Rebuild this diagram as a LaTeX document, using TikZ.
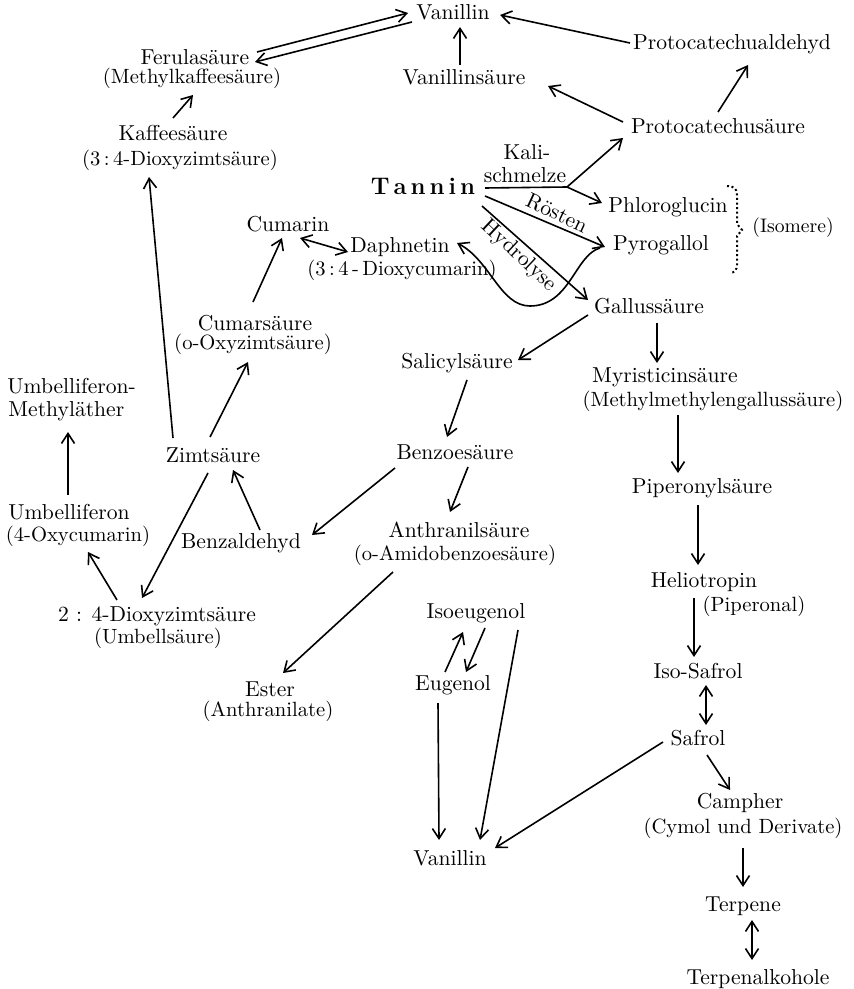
\documentclass[tikz,border=0pt]{standalone}
\usetikzlibrary{arrows.meta,calc}
\begin{document}
\begin{tikzpicture}[x=0.5pt,y=-0.5pt,
  lbl/.style={inner sep=0pt, anchor=base, font=\fontsize{10.8}{13}\selectfont},
  subtxt/.style={lbl, font=\fontsize{10.3}{12}\selectfont},
  arr/.style={-{Straight Barb[length=5pt,width=6.5pt]}, line width=0.8pt},
  darr/.style={{Straight Barb[length=5pt,width=6.5pt]}-{Straight Barb[length=5pt,width=6.5pt]}, line width=0.8pt},
  conn/.style={line width=0.8pt}]
\useasboundingbox (0,0) rectangle (853,989);

% compounds
\node[lbl] (van1) at (453,20) {Vanillin};
\node[lbl] (pald) at (732,50) {Protocatechualdehyd};
\node[lbl] (ferul) at (195,65) {Ferulasäure};
\node[subtxt] (ferulsub) at (192,84) {(Methylkaffeesäure)};
\node[lbl] (vans) at (464,85) {Vanillinsäure};
\node[lbl] (kaff) at (173,141) {Kaffeesäure};
\node[subtxt] (kaffsub) at (180,166) {(3\,:\,4-Dioxyzimtsäure)};
\node[lbl] (pcs) at (718,134) {Protocatechusäure};
\node[lbl, font=\bfseries\fontsize{12}{14}\selectfont] (tannin) at (423,195) {T\kern2pt a\kern2pt n\kern2pt n\kern2pt i\kern2pt n};
\node[lbl] (kali) at (527,160) {Kali-};
\node[lbl] (schm) at (525,183) {schmelze};
\node[lbl] (phlo) at (668,213) {Phloroglucin};
\node[lbl] (pyro) at (661,251) {Pyrogallol};
\node[lbl, anchor=base west, font=\fontsize{9.8}{12}\selectfont] (isomere) at (752,233) {(Isomere)};
\node[lbl] (cumarin) at (288,232) {Cumarin};
\node[lbl] (daph) at (400,253) {Daphnetin};
\node[subtxt] (daphsub) at (402,276) {(3\,:\,4\,-\,Dioxycumarin)};
\node[lbl] (gall) at (649,314) {Gallussäure};
\node[lbl] (cums) at (255,330) {Cumarsäure};
\node[subtxt] (cumssub) at (253,350) {(o-Oxyzimtsäure)};
\node[lbl] (sal) at (457,368) {Salicylsäure};
\node[lbl] (myr) at (665,382) {Myristicinsäure};
\node[subtxt] (myrsub) at (713,406) {(Methylmethylengallussäure)};
\node[lbl, anchor=base west] (umbme) at (7,393) {Umbelliferon-};
\node[lbl, anchor=base west] (umbmesub) at (8,416) {Methyläther};
\node[lbl] (zimt) at (213,462) {Zimtsäure};
\node[lbl] (benz) at (455,459) {Benzoesäure};
\node[lbl] (pip) at (702,493) {Piperonylsäure};
\node[lbl] (umb) at (69,519) {Umbelliferon};
\node[subtxt] (umbsub) at (78,541) {(4-Oxycumarin)};
\node[lbl] (benzal) at (241,548) {Benzaldehyd};
\node[lbl] (anth) at (459,537) {Anthranilsäure};
\node[subtxt] (anthsub) at (455,560) {(o-Amidobenzoesäure)};
\node[lbl] (helio) at (704,587) {Heliotropin};
\node[subtxt] (heliosub) at (754,611) {(Piperonal)};
\node[lbl] (dioxy) at (157,621) {2 : 4-Dioxyzimtsäure};
\node[subtxt] (dioxysub) at (158,643) {(Umbellsäure)};
\node[lbl] (isoeug) at (476,618) {Isoeugenol};
\node[lbl] (eug) at (453,690) {Eugenol};
\node[lbl] (isosaf) at (698,678) {Iso-Safrol};
\node[lbl] (ester) at (270,696) {Ester};
\node[subtxt] (estersub) at (268,716) {(Anthranilate)};
\node[lbl] (safrol) at (698,745) {Safrol};
\node[lbl] (campher) at (740,808) {Campher};
\node[subtxt] (camphsub) at (743,833) {(Cymol und Derivate)};
\node[lbl] (van2) at (450,865) {Vanillin};
\node[lbl] (terp) at (743,911) {Terpene};
\node[lbl] (terpalk) at (758,984) {Terpenalkohole};

% reaction labels
\node[lbl, anchor=center, rotate=-25] (roesten) at (557,213) {Rösten};
\node[lbl, anchor=center, rotate=-43] (hydro) at (519,256) {Hydrolyse};

% isomere brace (dotted)
\draw[line width=1pt, dash pattern=on 1pt off 1.3pt] (727,186) .. controls (733,186) and (737,188) .. (737,195) -- (737,224) -- (742,230) -- (737,236) -- (737,265) .. controls (737,270) and (734,273) .. (730,273);

% connectors
\draw[arr] ($(ferul.base)+(62,-13)$) -- ($(van1.base)+(-45,-7)$);
\draw[arr] ($(van1.base)+(-41,2)$) -- ($(ferul.base)+(60,-3)$);
\draw[arr] ($(kaff.base)+(0,-23)$) -- ($(ferulsub.base)+(1,11)$);
\draw[arr] ($(vans.base)+(-4,-20)$) -- ($(van1.base)+(7,7)$);
\draw[arr] ($(pald.base)+(-102,-7)$) -- ($(van1.base)+(47,-5)$);
\draw[arr] ($(pcs.base)+(-95,-12)$) -- ($(vans.base)+(84,1)$);
\draw[arr] ($(pcs.base)+(0,-22)$) -- ($(pald.base)+(16,15)$);

\coordinate (kj) at ($(tannin.base)+(144,-8)$);
\draw[conn] ($(tannin.base)+(62,-7)$) -- (kj);
\draw[arr] (kj) -- ($(pcs.base)+(-95,4)$);
\draw[arr] (kj) -- ($(phlo.base)+(-66,-10)$);
\draw[arr] ($(tannin.base)+(62,1)$) -- ($(pyro.base)+(-56,-4)$);
\draw[arr] ($(tannin.base)+(59,11)$) -- ($(gall.base)+(-61,-14)$);
\draw[arr] ($(pyro.base)+(-61,-3)$) .. controls +(-25,7) and +(40,0) .. ($(daph.base)+(130,53)$) .. controls +(-30,0) and +(33,17) .. ($(daph.base)+(57,-10)$);

\draw[darr] ($(cumarin.base)+(12,6)$) -- ($(daph.base)+(-52,-1)$);
\draw[arr] ($(cums.base)+(-2,-28)$) -- ($(cumarin.base)+(-6,6)$);
\draw[arr] ($(zimt.base)+(-3,-25)$) -- ($(cumssub.base)+(-5,12)$);
\draw[arr] ($(zimt.base)+(-40,-24)$) -- ($(kaffsub.base)+(-31,11)$);
\draw[arr] ($(umb.base)+(-1,-24)$) -- ($(umbmesub.base west)+(60,16)$);
\draw[arr] ($(benzal.base)+(19,-18)$) -- ($(zimt.base)+(20,8)$);
\draw[arr] ($(zimt.base)+(-5,11)$) -- ($(dioxy.base)+(-15,-23)$);
\draw[arr] ($(dioxy.base)+(-40,-21)$) -- ($(umbsub.base)+(10,11)$);
\draw[arr] ($(benz.base)+(-60,9)$) -- ($(benzal.base)+(71,-13)$);

\draw[arr] ($(gall.base)+(-61,1)$) -- ($(sal.base)+(61,-8)$);
\draw[arr] ($(gall.base)+(8,9)$) -- ($(myr.base)+(-8,-19)$);
\draw[arr] ($(sal.base)+(10,12)$) -- ($(benz.base)+(-8,-22)$);
\draw[arr] ($(benz.base)+(13,8)$) -- ($(anth.base)+(-9,-25)$);
\draw[arr] ($(anthsub.base)+(-62,12)$) -- ($(ester.base)+(13,-23)$);

\draw[arr] ($(myrsub.base)+(-35,9)$) -- ($(pip.base)+(-24,-20)$);
\draw[arr] ($(pip.base)+(-4,12)$) -- ($(helio.base)+(-6,-22)$);
\draw[arr] ($(helio.base)+(-10,11)$) -- ($(isosaf.base)+(-4,-21)$);
\draw[darr] ($(isosaf.base)+(8,7)$) -- ($(safrol.base)+(8,-20)$);
\draw[arr] ($(safrol.base)+(9,10)$) -- ($(campher.base)+(-10,-18)$);
\draw[arr] ($(camphsub.base)+(0,15)$) -- ($(terp.base)+(0,-24)$);
\draw[darr] ($(terp.base)+(9,9)$) -- ($(terpalk.base)+(-6,-24)$);

\draw[arr] ($(eug.base)+(-8,-18)$) -- ($(isoeug.base)+(-13,14)$);
\draw[arr] ($(isoeug.base)+(9,10)$) -- ($(eug.base)+(13,-18)$);
\draw[arr] ($(eug.base)+(-15,13)$) -- ($(van2.base)+(-11,-25)$);
\draw[arr] ($(isoeug.base)+(42,12)$) -- ($(van2.base)+(30,-25)$);
\draw[arr] ($(safrol.base)+(-35,-3)$) -- ($(van2.base)+(45,-17)$);
\end{tikzpicture}
\end{document}
